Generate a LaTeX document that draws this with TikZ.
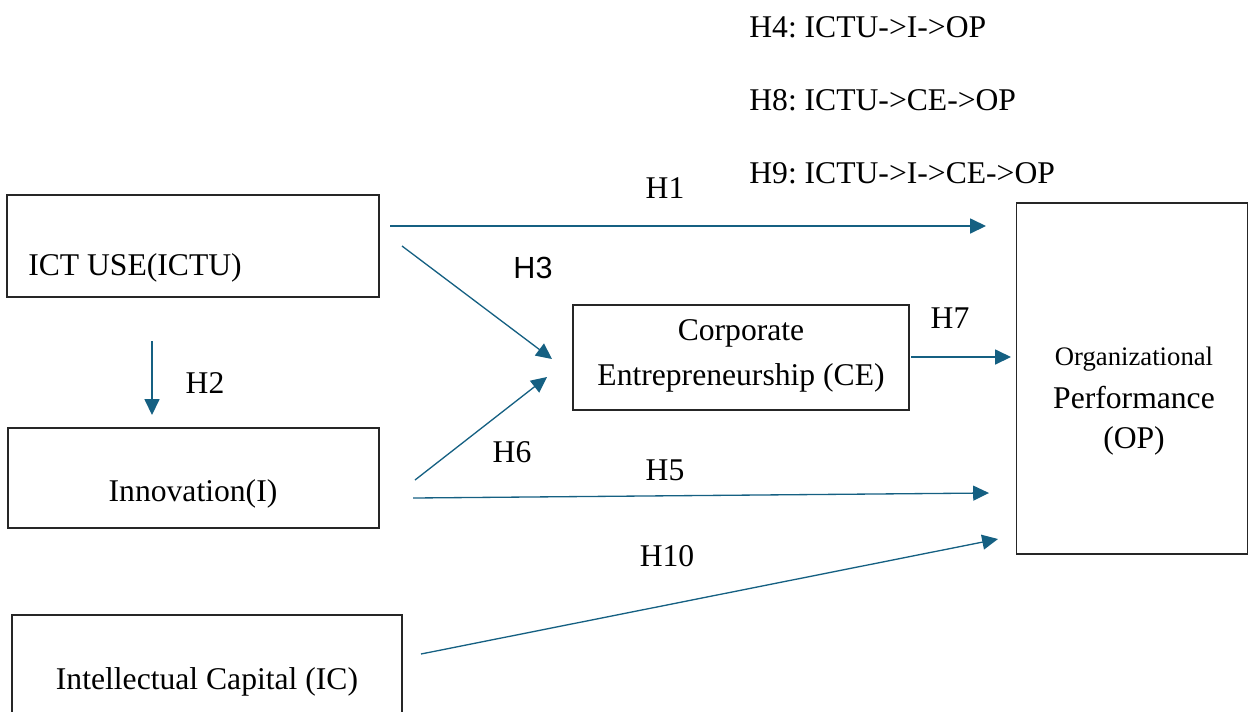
\documentclass[tikz,border=0pt]{standalone}
\usepackage{fontspec}
\setmainfont{Liberation Serif}
\newfontfamily\sansf{Liberation Sans}
\usetikzlibrary{arrows.meta}
\definecolor{arrowblue}{HTML}{156082}
\frenchspacing
\tikzset{
  box/.style={draw=black!85, line width=0.75pt, inner sep=0pt, rectangle},
  txt/.style={inner sep=0pt, font=\fontsize{18}{21}\selectfont},
  conn/.style={draw=arrowblue, line width=0.75pt, -{Triangle[length=9pt,width=8.5pt]}},
}
\begin{document}
\begin{tikzpicture}[x=0.02cm,y=-0.02cm]
\useasboundingbox (0,0) rectangle (1250,711);
% boxes (corners in px)
\node[box, minimum width=7.44cm, minimum height=2.04cm] (ictu) at (193,246) {};
\node[box, minimum width=7.42cm, minimum height=2.0cm] (inno) at (193.5,478) {};
\node[box, minimum width=7.8cm, minimum height=2.4cm] (ic) at (207,675) {};
\node[box, minimum width=6.72cm, minimum height=2.1cm] (ce) at (741,357.5) {};
\node[box, minimum width=4.62cm, minimum height=7.02cm] (op) at (1132,378.5) {};
% box texts
\node[txt] (tictu) at (135,268) {ICT USE(ICTU)};
\node[txt] (tinno) at (193,494) {Innovation(I)};
\node[txt] (tic) at (207,682) {Intellectual Capital (IC)};
\node[txt] (tce1) at (741,333) {Corporate};
\node[txt] (tce2) at (741,378) {Entrepreneurship (CE)};
\node[inner sep=0pt, font=\fontsize{15.2}{17}\selectfont] (top1) at (1134,359) {Organizational};
\node[txt] (top2) at (1134,398) {Performance};
\node[txt] (top3) at (1134,441) {(OP)};
% hypothesis list
\node[txt, anchor=west] (h4) at (749,27) {H4: ICTU->I->OP};
\node[txt, anchor=west] (h8) at (749,100) {H8: ICTU->CE->OP};
\node[txt, anchor=west] (h9) at (749,173) {H9: ICTU->I->CE->OP};
% labels
\node[txt] (l1) at (665,188) {H1};
\node[txt, font=\sansf\fontsize{17.4}{20}\selectfont] (l3) at (533,268) {H3};
\node[txt] (l7) at (950,318) {H7};
\node[txt] (l2) at (205,383) {H2};
\node[txt] (l6) at (512,452) {H6};
\node[txt] (l5) at (665,470) {H5};
\node[txt] (l10) at (667,556) {H10};
% connector end points
\coordinate (a1s) at (390,226); \coordinate (a1e) at (986,226);
\coordinate (a3s) at (402,246); \coordinate (a3e) at (552,359);
\coordinate (a7s) at (911,357); \coordinate (a7e) at (1011,357);
\coordinate (a2s) at (152,341); \coordinate (a2e) at (152,415);
\coordinate (a6s) at (415,480); \coordinate (a6e) at (547,377);
\coordinate (a5s) at (413,498); \coordinate (a5e) at (989,493);
\coordinate (a10s) at (421,654); \coordinate (a10e) at (998,539);
\draw[conn] (a1s) -- (a1e);
\draw[conn] (a3s) -- (a3e);
\draw[conn] (a7s) -- (a7e);
\draw[conn] (a2s) -- (a2e);
\draw[conn] (a6s) -- (a6e);
\draw[conn] (a5s) -- (a5e);
\draw[conn] (a10s) -- (a10e);
\end{tikzpicture}
\end{document}
